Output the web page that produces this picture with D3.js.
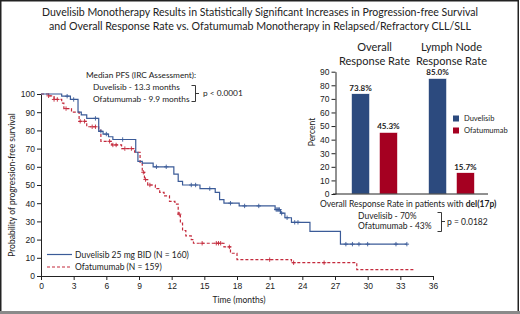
<!DOCTYPE html>
<html>
<head>
<meta charset="utf-8">
<script src="https://cdn.jsdelivr.net/npm/d3@7"></script>
<style>
  html, body { margin: 0; padding: 0; background: #fff; }
  svg { display: block; font-family: Lato, "Open Sans", sans-serif; }
  .axis text { font-size: 8.5px; fill: #222; }
  .axis path, .axis line { stroke: #222; }
</style>
</head>
<body>
<svg id="chart" width="520" height="314"></svg>
<script>
// ── Data ─────────────────────────────────────────────
// Kaplan-Meier steps: [month, % progression-free]
const duvSteps = [
  [0, 100], [1.9, 98.8], [2.7, 97], [3.4, 90], [3.7, 88.5], [4.2, 86.6],
  [5.3, 79.5], [5.7, 78], [6.2, 76.5], [6.6, 75], [8.7, 68], [8.9, 63],
  [9.3, 62], [10.3, 60], [12.2, 56], [12.6, 52], [13.0, 50], [14.6, 48],
  [16.0, 46], [16.4, 42], [16.8, 40], [18.2, 38.5], [21.5, 36.5], [22.0, 34.5],
  [22.4, 32], [23.0, 29.5], [24.7, 24.5], [27.5, 17.5], [33.6, 17.5]
];
const duvCensor = [2.4, 3.0, 5.0, 5.5, 6.0, 7.5, 10.6, 11.5, 13.8, 14.2, 15.5,
  17.4, 18.7, 20.0, 21.6, 21.7, 21.8, 21.9, 22.1, 22.6, 23.3, 23.6,
  28.0, 28.6, 29.2, 30.0, 32.6, 33.6];

const ofaSteps = [
  [0, 100], [0.7, 99], [1.2, 97], [1.9, 95], [2.1, 92], [2.8, 90], [3.5, 85],
  [4.2, 82], [5.3, 80], [5.5, 74], [6.5, 72], [7.4, 70], [8.6, 68], [9.1, 62],
  [9.3, 57], [9.5, 53], [9.8, 50], [10.5, 48], [10.9, 46], [11.3, 44],
  [11.8, 41], [12.3, 39.5], [12.6, 34], [12.8, 29], [13.0, 25], [13.3, 22],
  [13.8, 20], [14.0, 18], [16.8, 16], [17.4, 12.5], [18.0, 9], [23.0, 7.3],
  [29.0, 3.5], [34.3, 3.5]
];
const ofaCensor = [0.7, 1.2, 1.5, 2.3, 3.6, 4.0, 4.7, 5.0, 6.3, 6.6, 6.9, 7.7,
  8.3, 9.4, 9.6, 10.0, 12.7, 14.8, 16.1, 16.3, 16.5, 17.3, 21.0, 23.2, 26.0];

const kmXTicks = d3.range(0, 37, 3);
const kmYTicks = d3.range(0, 101, 10);

// Response-rate bars
const groups = ['Overall Response Rate', 'Lymph Node Response Rate'];
const groupTitles = [['Overall', 'Response Rate'], ['Lymph Node', 'Response Rate']];
const arms = ['Duvelisib', 'Ofatumumab'];
const duvRates = [73.8, 85.0];
const ofaRates = [45.3, 15.7];
const barYTicks = d3.range(0, 91, 10);

const BLUE = '#2c4a7e', RED = '#a50021';
const KM_BLUE = '#3b5b98', KM_RED = '#c42a3c';

const svg = d3.select('#chart');

// frame
svg.append('rect').attr('x', 0.75).attr('y', 0.75).attr('width', 517.5).attr('height', 311)
  .attr('fill', 'none').attr('stroke', '#222').attr('stroke-width', 1.5);
svg.append('rect').attr('x', 0).attr('y', 311).attr('width', 520).attr('height', 3).attr('fill', '#8a8a8a');

// ── Title ────────────────────────────────────────────
const titleLines = [
  'Duvelisib Monotherapy Results in Statistically Significant Increases in Progression-free Survival',
  'and Overall Response Rate vs. Ofatumumab Monotherapy in Relapsed/Refractory CLL/SLL'
];
const titleWidths = [436, 422];
titleLines.forEach((t, i) => {
  svg.append('text')
    .attr('x', 260).attr('y', 16 + i * 14)
    .attr('text-anchor', 'middle')
    .attr('font-size', '10.5px').attr('fill', '#222')
    .attr('textLength', titleWidths[i]).attr('lengthAdjust', 'spacingAndGlyphs')
    .text(t);
});

// ── Kaplan-Meier panel ───────────────────────────────
const x = d3.scaleLinear().domain([0, 36]).range([41, 433]);
const y = d3.scaleLinear().domain([0, 100]).range([276, 94]);

svg.append('g').attr('class', 'axis')
  .attr('transform', 'translate(0,276)')
  .call(d3.axisBottom(x).tickValues(kmXTicks).tickSize(4).tickSizeOuter(0).tickPadding(3));

svg.append('g').attr('class', 'axis')
  .attr('transform', 'translate(41,0)')
  .call(d3.axisLeft(y).tickValues(kmYTicks).tickSize(4).tickSizeOuter(0).tickPadding(2))
  .call(g => g.selectAll('text').attr('dy', '0.34em'));

svg.append('text')
  .attr('transform', 'rotate(-90)')
  .attr('x', -185).attr('y', 15)
  .attr('text-anchor', 'middle')
  .attr('font-size', '8.5px').attr('fill', '#222')
  .text('Probability of progression-free survival');

svg.append('text')
  .attr('x', 239).attr('y', 303)
  .attr('text-anchor', 'middle')
  .attr('font-size', '8.5px').attr('fill', '#222')
  .text('Time (months)');

const stepLine = d3.line()
  .x(d => x(d[0]))
  .y(d => y(d[1]))
  .curve(d3.curveStepAfter);

function survAt(steps, t) {
  let s = steps[0][1];
  for (const d of steps) { if (d[0] <= t) s = d[1]; }
  return s;
}

function drawArm(steps, censor, color, dash) {
  svg.append('path')
    .datum(steps)
    .attr('fill', 'none')
    .attr('stroke', color)
    .attr('stroke-width', 1.2)
    .attr('stroke-dasharray', dash)
    .attr('d', stepLine);

  svg.append('g').selectAll('path')
    .data(censor)
    .join('path')
    .attr('transform', t => `translate(${x(t)},${y(survAt(steps, t))})`)
    .attr('d', 'M-2.2,0H2.2M0,-2.2V2.2')
    .attr('stroke', color)
    .attr('stroke-width', 0.9);
}

drawArm(ofaSteps, ofaCensor, KM_RED, '3 2');
drawArm(duvSteps, duvCensor, KM_BLUE, null);

// KM legend
const kmLegend = [
  { label: 'Duvelisib 25 mg BID (N = 160)', color: KM_BLUE, dash: null },
  { label: 'Ofatumumab (N = 159)', color: KM_RED, dash: '3 2' }
];
kmLegend.forEach((d, i) => {
  const ly = 254.5 + i * 12.5;
  svg.append('line')
    .attr('x1', 47).attr('x2', 72).attr('y1', ly).attr('y2', ly)
    .attr('stroke', d.color).attr('stroke-width', 1.2)
    .attr('stroke-dasharray', d.dash);
  svg.append('text')
    .attr('x', 75).attr('y', ly + 3)
    .attr('font-size', '8.5px').attr('fill', '#222')
    .text(d.label);
});

// Median PFS annotation
svg.append('text').attr('x', 86).attr('y', 78)
  .attr('font-size', '8.3px').attr('fill', '#222')
  .text('Median PFS (IRC Assessment):');
['Duvelisib - 13.3 months', 'Ofatumumab - 9.9 months'].forEach((t, i) => {
  svg.append('text').attr('x', 93).attr('y', 90 + i * 12)
    .attr('font-size', '8.3px').attr('fill', '#222')
    .text(t);
});
svg.append('path')
  .attr('d', 'M191.5,85.5H195.5V101.5H191.5M195.5,93.5H199')
  .attr('fill', 'none').attr('stroke', '#222').attr('stroke-width', 0.9);
svg.append('text').attr('x', 203).attr('y', 96)
  .attr('font-size', '8.3px').attr('fill', '#222')
  .text('p < 0.0001');

// ── Response-rate bars ───────────────────────────────
const gx = d3.scaleBand().domain(groups).range([336, 490]);
const sx = d3.scaleBand().domain(arms).range([-23, 23]).paddingInner(0.35);
const by = d3.scaleLinear().domain([0, 90]).range([194, 71.7]);
const armColor = d3.scaleOrdinal().domain(arms).range([BLUE, RED]);

svg.append('g').attr('class', 'axis')
  .attr('transform', 'translate(335.5,0)')
  .call(d3.axisLeft(by).tickValues(barYTicks).tickSize(4).tickSizeOuter(0).tickPadding(2))
  .call(g => g.selectAll('text').attr('dy', '0.34em'));

svg.append('text')
  .attr('transform', 'rotate(-90)')
  .attr('x', -132).attr('y', 315)
  .attr('text-anchor', 'middle')
  .attr('font-size', '8.5px').attr('fill', '#222')
  .text('Percent');

const barData = groups.flatMap((g, i) => [
  { group: g, arm: arms[0], value: duvRates[i] },
  { group: g, arm: arms[1], value: ofaRates[i] }
]);

svg.append('g').selectAll('rect')
  .data(barData)
  .join('rect')
  .attr('x', d => gx(d.group) + gx.bandwidth() / 2 + sx(d.arm))
  .attr('y', d => by(d.value))
  .attr('width', sx.bandwidth())
  .attr('height', d => by(0) - by(d.value))
  .attr('fill', d => armColor(d.arm))
  .attr('stroke', '#fff').attr('stroke-width', 0.6);

svg.append('g').selectAll('text')
  .data(barData)
  .join('text')
  .attr('x', d => gx(d.group) + gx.bandwidth() / 2 + sx(d.arm) + sx.bandwidth() / 2)
  .attr('y', d => by(d.value) - 3)
  .attr('text-anchor', 'middle')
  .attr('font-size', '8px').attr('font-weight', 'bold').attr('fill', '#222')
  .text(d => d.value.toFixed(1) + '%');

// baseline
svg.append('line')
  .attr('x1', 333).attr('x2', 488).attr('y1', by(0)).attr('y2', by(0))
  .attr('stroke', '#222').attr('stroke-width', 1);

// group titles
groups.forEach((g, i) => {
  groupTitles[i].forEach((t, j) => {
    svg.append('text')
      .attr('x', gx(g) + gx.bandwidth() / 2).attr('y', 51 + j * 13.5)
      .attr('text-anchor', 'middle')
      .attr('font-size', '11px').attr('fill', '#222')
      .text(t);
  });
});

// bar legend
arms.forEach((a, i) => {
  const ly = 115.5 + i * 12;
  svg.append('rect')
    .attr('x', 453).attr('y', ly).attr('width', 6).attr('height', 6)
    .attr('fill', armColor(a));
  svg.append('text')
    .attr('x', 464).attr('y', ly + 5.5)
    .attr('font-size', '7.5px').attr('fill', '#222')
    .text(a);
});

// del(17p) annotation
const dt = svg.append('text').attr('x', 320).attr('y', 207)
  .attr('font-size', '8.5px').attr('fill', '#222');
dt.append('tspan').text('Overall Response Rate in patients with ');
dt.append('tspan').attr('font-weight', 'bold').text('del(17p)');

['Duvelisib - 70%', 'Ofatumumab - 43%'].forEach((t, i) => {
  svg.append('text').attr('x', 358).attr('y', 219 + i * 10)
    .attr('font-size', '8.5px').attr('fill', '#222')
    .text(t);
});
svg.append('path')
  .attr('d', 'M437.5,212.5H441.5V231.5H437.5M441.5,221.5H445')
  .attr('fill', 'none').attr('stroke', '#222').attr('stroke-width', 0.9);
svg.append('text').attr('x', 447).attr('y', 224.5)
  .attr('font-size', '8.5px').attr('fill', '#222')
  .text('p = 0.0182');
</script>
</body>
</html>
